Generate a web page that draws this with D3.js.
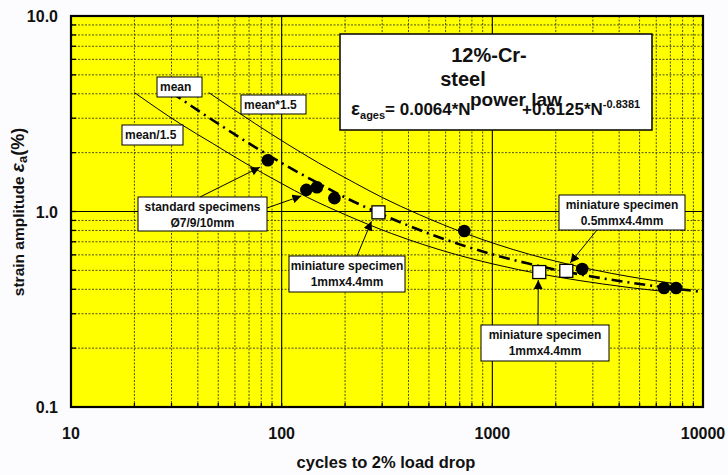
<!DOCTYPE html>
<html><head><meta charset="utf-8">
<script src="https://cdn.jsdelivr.net/npm/d3@7/dist/d3.min.js"></script>
<style>
body{margin:0;background:#fcfcfe;}
text{font-family:"Liberation Sans",Arial,sans-serif;font-weight:bold;fill:#111;}
</style>
</head><body>
<svg id="c" width="728" height="475"></svg>
<script>
// ---- data ----
const xTicks = [10, 100, 1000, 10000];
const xTickLabels = ["10", "100", "1000", "10000"];
const yTicks = [0.1, 1, 10];
const yTickLabels = ["0.1", "1.0", "10.0"];
const xMinor = [20,30,40,50,60,70,80,90,200,300,400,500,600,700,800,900,2000,3000,4000,5000,6000,7000,8000,9000];
const yMinor = [0.2,0.3,0.4,0.5,0.6,0.7,0.8,0.9,2,3,4,5,6,7,8,9];

const stdN      = [86, 131, 147, 178, 736, 2672, 6530, 7450];
const stdStrain = [1.83, 1.29, 1.33, 1.17, 0.795, 0.508, 0.406, 0.406];
const miniN      = [288, 1670, 2244];
const miniStrain = [0.99, 0.49, 0.497];

const meanN      = [30, 50, 70, 100, 150, 200, 300, 500, 700, 1000, 1500, 2000, 3000, 5000, 7000, 9500];
const meanStrain = [4.06, 2.81, 2.23, 1.77, 1.39, 1.18, 0.964, 0.771, 0.679, 0.604, 0.540, 0.504, 0.464, 0.426, 0.406, 0.390];
const upperN      = [45, 75, 105, 150, 225, 300, 450, 750, 1050, 1500, 2250, 3000, 4500, 7500];
const upperStrain = [4.06, 2.81, 2.23, 1.77, 1.39, 1.18, 0.964, 0.771, 0.679, 0.604, 0.540, 0.504, 0.464, 0.426];
const lowerN      = [20, 33, 47, 67, 100, 133, 200, 333, 467, 667, 1000, 1333, 2000, 3333, 4667, 6667];
const lowerStrain = [4.06, 2.81, 2.23, 1.77, 1.39, 1.18, 0.964, 0.771, 0.679, 0.604, 0.540, 0.504, 0.464, 0.426, 0.406, 0.389];

// ---- layout ----
const L = 71, R = 703, T = 16, B = 407;
const svg = d3.select("#c");
const x = d3.scaleLog().domain([10, 10000]).range([L, R]);
const y = d3.scaleLog().domain([0.1, 10]).range([B, T]);

svg.append("rect").attr("x", L).attr("y", T).attr("width", R - L).attr("height", B - T).attr("fill", "#ffff00");

// minor grid
const g = svg.append("g");
g.selectAll(".vx").data(xMinor).join("line")
  .attr("x1", d => x(d)).attr("x2", d => x(d)).attr("y1", T).attr("y2", B)
  .attr("stroke", "#3a3a1a").attr("stroke-width", 0.9).attr("stroke-dasharray", "2,1.5");
g.selectAll(".hy").data(yMinor).join("line")
  .attr("y1", d => y(d)).attr("y2", d => y(d)).attr("x1", L).attr("x2", R)
  .attr("stroke", "#3a3a1a").attr("stroke-width", 0.9).attr("stroke-dasharray", "2,1.5");
// major grid
g.selectAll(".mx").data([100, 1000]).join("line")
  .attr("x1", d => x(d)).attr("x2", d => x(d)).attr("y1", T).attr("y2", B)
  .attr("stroke", "#000").attr("stroke-width", 1.1);
g.selectAll(".my").data([1]).join("line")
  .attr("y1", d => y(d)).attr("y2", d => y(d)).attr("x1", L).attr("x2", R)
  .attr("stroke", "#000").attr("stroke-width", 1.1);

// ticks
svg.append("g").selectAll("line").data(xMinor.concat([100, 1000])).join("line")
  .attr("x1", d => x(d)).attr("x2", d => x(d)).attr("y1", B).attr("y2", B - 4)
  .attr("stroke", "#000").attr("stroke-width", 1.3);
svg.append("g").selectAll("line").data(yMinor.concat([1])).join("line")
  .attr("y1", d => y(d)).attr("y2", d => y(d)).attr("x1", L).attr("x2", L + 5)
  .attr("stroke", "#000").attr("stroke-width", 1.3);

// curves
const line = d3.line().x(d => x(d[0])).y(d => y(d[1])).curve(d3.curveMonotoneX);
svg.append("path").datum(upperN.map((n, i) => [n, upperStrain[i]]))
  .attr("d", line).attr("fill", "none").attr("stroke", "#000").attr("stroke-width", 1);
svg.append("path").datum(lowerN.map((n, i) => [n, lowerStrain[i]]))
  .attr("d", line).attr("fill", "none").attr("stroke", "#000").attr("stroke-width", 1);
svg.append("path").datum(meanN.map((n, i) => [n, meanStrain[i]]))
  .attr("d", line).attr("fill", "none").attr("stroke", "#000").attr("stroke-width", 2.6)
  .attr("stroke-dasharray", "11,5,2,5");

// points
svg.append("g").selectAll("circle").data(stdN.map((n, i) => [n, stdStrain[i]])).join("circle")
  .attr("cx", d => x(d[0])).attr("cy", d => y(d[1])).attr("r", 6.3).attr("fill", "#000");
svg.append("g").selectAll("rect").data(miniN.map((n, i) => [n, miniStrain[i]])).join("rect")
  .attr("x", d => x(d[0]) - 6.5).attr("y", d => y(d[1]) - 6.5).attr("width", 13).attr("height", 13)
  .attr("fill", "#fff").attr("stroke", "#000").attr("stroke-width", 1.3);

// arrow marker
svg.append("defs").append("marker").attr("id", "ah").attr("viewBox", "0 0 10 10")
  .attr("refX", 10).attr("refY", 5).attr("markerWidth", 9).attr("markerHeight", 9)
  .attr("markerUnits", "userSpaceOnUse").attr("orient", "auto")
  .append("path").attr("d", "M0,0 L10,5 L0,10 Z").attr("fill", "#000");

// annotation boxes
const notes = [
  {lines: ["mean"], box: [157, 77, 45, 20]},
  {lines: ["mean*1.5"], box: [241, 95, 65, 19]},
  {lines: ["mean/1.5"], box: [122, 125, 61, 20]},
  {lines: ["standard specimens", "Ø7/9/10mm"], box: [138, 197, 129, 34]},
  {lines: ["miniature specimen", "1mmx4.4mm"], box: [289, 256, 116, 36]},
  {lines: ["miniature specimen", "0.5mmx4.4mm"], box: [559, 195, 126, 35]},
  {lines: ["miniature specimen", "1mmx4.4mm"], box: [481, 325, 128, 36]}
];
const arrows = [
  {from: [200, 197], to: [stdN[0], stdStrain[0]], off: [-8, 7]},
  {from: [267, 208], to: [stdN[1], stdStrain[1]], off: [-5, 6]},
  {from: [357, 256], to: [miniN[0], miniStrain[0]], off: [-7, 9]},
  {from: [597, 230], to: [miniN[2], miniStrain[2]], off: [4, -8]},
  {from: [538, 325], to: [miniN[1], miniStrain[1]], off: [-1, 8]}
];
arrows.forEach(a => {
  svg.append("line").attr("x1", a.from[0]).attr("y1", a.from[1])
    .attr("x2", x(a.to[0]) + a.off[0]).attr("y2", y(a.to[1]) + a.off[1])
    .attr("stroke", "#000").attr("stroke-width", 1).attr("marker-end", "url(#ah)");
});
notes.forEach(n => {
  const [bx, by, bw, bh] = n.box;
  svg.append("rect").attr("x", bx).attr("y", by).attr("width", bw).attr("height", bh)
    .attr("fill", "#fff").attr("stroke", "#000").attr("stroke-width", 1);
  if (n.lines.length === 1) {
    svg.append("text").attr("x", bx + 3).attr("y", by + 14).attr("font-size", 12).text(n.lines[0]);
  } else {
    n.lines.forEach((t, i) => {
      svg.append("text").attr("x", bx + bw / 2).attr("y", by + 14 + i * 16)
        .attr("text-anchor", "middle").attr("font-size", 12).text(t);
    });
  }
});

// equation box
svg.append("rect").attr("x", 340).attr("y", 34).attr("width", 312).attr("height", 96)
  .attr("fill", "#fff").attr("stroke", "#000").attr("stroke-width", 1.5);
svg.append("text").attr("x", 489).attr("y", 62).attr("text-anchor", "middle").attr("font-size", 20).text("12%-Cr-");
svg.append("text").attr("x", 463).attr("y", 86).attr("text-anchor", "middle").attr("font-size", 20).text("steel");
const eq = svg.append("text").attr("x", 351).attr("y", 115).attr("font-size", 17);
eq.append("tspan").attr("font-size", 19).text("ε");
eq.append("tspan").attr("font-size", 11).attr("dy", 4).text("ages");
eq.append("tspan").attr("dy", -4).text("= 0.0064*N");
eq.append("tspan").attr("x", 522).text("+0.6125*N");
eq.append("tspan").attr("font-size", 11).attr("dy", -7).text("-0.8381");
svg.append("text").attr("x", 470).attr("y", 106).attr("font-size", 19).text("power law");

// frame
svg.append("rect").attr("x", L).attr("y", T).attr("width", R - L).attr("height", B - T)
  .attr("fill", "none").attr("stroke", "#000").attr("stroke-width", 2.2);

// tick labels
svg.append("g").selectAll("text").data(xTicks).join("text")
  .attr("x", d => x(d)).attr("y", 439).attr("text-anchor", "middle").attr("font-size", 16)
  .text((d, i) => xTickLabels[i]);
svg.append("g").selectAll("text").data(yTicks).join("text")
  .attr("x", 58).attr("y", d => y(d) + 6).attr("text-anchor", "end").attr("font-size", 16)
  .text((d, i) => yTickLabels[i]);

// axis titles
svg.append("text").attr("x", 386).attr("y", 468).attr("text-anchor", "middle").attr("font-size", 16.5)
  .text("cycles to 2% load drop");
const yt = svg.append("text").attr("transform", "translate(24,212) rotate(-90)")
  .attr("text-anchor", "middle").attr("font-size", 15.5);
yt.append("tspan").text("strain amplitude  ");
yt.append("tspan").attr("font-style", "italic").attr("font-size", 19).text("ε");
yt.append("tspan").attr("font-size", 13).attr("dy", 3).text("a");
yt.append("tspan").attr("font-size", 18).attr("dy", -3).text("(%)");
</script>
</body></html>
